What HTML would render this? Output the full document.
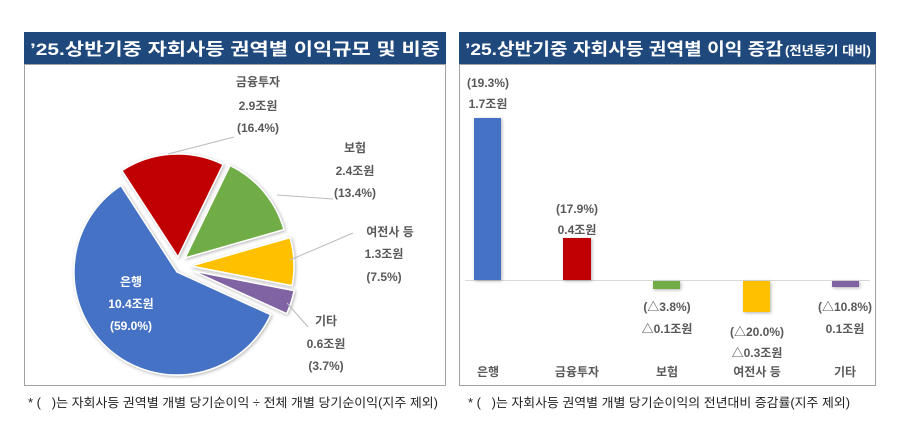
<!DOCTYPE html>
<html><head><meta charset="utf-8"><style>
html,body{margin:0;padding:0;background:#fff;}
svg{display:block;font-family:"Liberation Sans","Noto Sans CJK KR",sans-serif;}
.l{font-size:12px;font-weight:bold;fill:#595959;text-anchor:middle;}
.w{font-size:12px;font-weight:bold;fill:#fff;text-anchor:middle;}
.t{font-size:17px;font-weight:bold;fill:#fff;}
.f{font-size:12.5px;fill:#222;}
</style></head><body>
<svg width="898" height="435" viewBox="0 0 898 435">
<defs>
<filter id="sh" x="-20%" y="-20%" width="140%" height="140%"><feDropShadow dx="1" dy="1" stdDeviation="1.5" flood-color="#000" flood-opacity="0.3"/></filter>
<clipPath id="cl"><rect x="25" y="64" width="420" height="322"/></clipPath>
</defs>
<rect x="24" y="32" width="422" height="32" fill="#1f497d"/>
<text class="t" x="235" y="55" text-anchor="middle" textLength="410" lengthAdjust="spacingAndGlyphs">’25.상반기중 자회사등 권역별 이익규모 및 비중</text>
<rect x="24.5" y="64.5" width="421" height="321" fill="none" stroke="#444" stroke-dasharray="1 1"/>
<g clip-path="url(#cl)">
<g stroke="#fff" stroke-width="1.5" filter="url(#sh)">
<path d="M178,257 L121.9,170.6 A103,103 0 0 1 223.1,164.4 Z" fill="#c00000"/>
<path d="M185,258 L230.1,165.4 A103,103 0 0 1 284,229.6 Z" fill="#70ad47"/>
<path d="M191,266 L290,237.6 A103,103 0 0 1 292.1,285.7 Z" fill="#ffc000"/>
<path d="M193,271 L294.1,290.7 A103,103 0 0 1 286.7,313.7 Z" fill="#8064a2"/>
<path d="M177,272 L270.7,314.7 A103,103 0 1 1 120.9,185.6 Z" fill="#4472c4"/>
</g>
<g stroke="#bbb" stroke-width="1" fill="none">
<line x1="234" y1="137" x2="168" y2="154"/>
<line x1="277" y1="195" x2="333" y2="199"/>
<line x1="290" y1="260" x2="353" y2="233"/>
<line x1="287" y1="303" x2="308" y2="327"/>
</g>
<text class="l" x="258" y="86">금융투자</text>
<text class="l" x="258" y="110">2.9조원</text>
<text class="l" x="258" y="132">(16.4%)</text>
<text class="l" x="355" y="152">보험</text>
<text class="l" x="355" y="175">2.4조원</text>
<text class="l" x="355" y="197">(13.4%)</text>
<text class="l" x="390" y="236">여전사 등</text>
<text class="l" x="384" y="258">1.3조원</text>
<text class="l" x="384" y="281">(7.5%)</text>
<text class="l" x="326" y="325">기타</text>
<text class="l" x="326" y="348">0.6조원</text>
<text class="l" x="326" y="370">(3.7%)</text>
<text class="w" x="131" y="286">은행</text>
<text class="w" x="131" y="308">10.4조원</text>
<text class="w" x="131" y="330">(59.0%)</text>
</g>
<text class="f" x="28" y="407" textLength="410" lengthAdjust="spacingAndGlyphs">* (&#160;&#160;&#160;)는 자회사등 권역별 개별 당기순이익 ÷ 전체 개별 당기순이익(지주 제외)</text>

<rect x="459" y="32" width="417" height="32" fill="#1f497d"/>
<text class="t" x="465" y="55" textLength="318" lengthAdjust="spacingAndGlyphs">’25.상반기중 자회사등 권역별 이익 증감</text>
<text x="785" y="55" font-size="12.5" font-weight="bold" fill="#fff" textLength="86" lengthAdjust="spacingAndGlyphs">(전년동기 대비)</text>
<rect x="459.5" y="64.5" width="416" height="321" fill="none" stroke="#444" stroke-dasharray="1 1"/>
<line x1="465" y1="280.5" x2="870" y2="280.5" stroke="#d9d9d9" stroke-width="1"/>
<g filter="url(#sh)">
<rect x="474" y="118" width="27" height="162" fill="#4472c4"/>
<rect x="563" y="238" width="28" height="42" fill="#c00000"/>
<rect x="653" y="281" width="27" height="8" fill="#70ad47"/>
<rect x="743" y="281" width="27" height="31" fill="#ffc000"/>
<rect x="832" y="281" width="27" height="6" fill="#8064a2"/>
</g>
<text class="l" x="488" y="87">(19.3%)</text>
<text class="l" x="488" y="108">1.7조원</text>
<text class="l" x="577" y="213">(17.9%)</text>
<text class="l" x="577" y="234">0.4조원</text>
<text class="l" x="667" y="311">(△3.8%)</text>
<text class="l" x="667" y="333">△0.1조원</text>
<text class="l" x="757" y="336">(△20.0%)</text>
<text class="l" x="757" y="357">△0.3조원</text>
<text class="l" x="845" y="311">(△10.8%)</text>
<text class="l" x="845" y="333">0.1조원</text>
<text class="l" x="488" y="376" font-weight="normal">은행</text>
<text class="l" x="577" y="376" font-weight="normal">금융투자</text>
<text class="l" x="667" y="376" font-weight="normal">보험</text>
<text class="l" x="757" y="376" font-weight="normal">여전사 등</text>
<text class="l" x="845" y="376" font-weight="normal">기타</text>
<text class="f" x="468" y="407" textLength="382" lengthAdjust="spacingAndGlyphs">* (&#160;&#160;&#160;)는 자회사등 권역별 개별 당기순이익의 전년대비 증감률(지주 제외)</text>
</svg>
</body></html>
